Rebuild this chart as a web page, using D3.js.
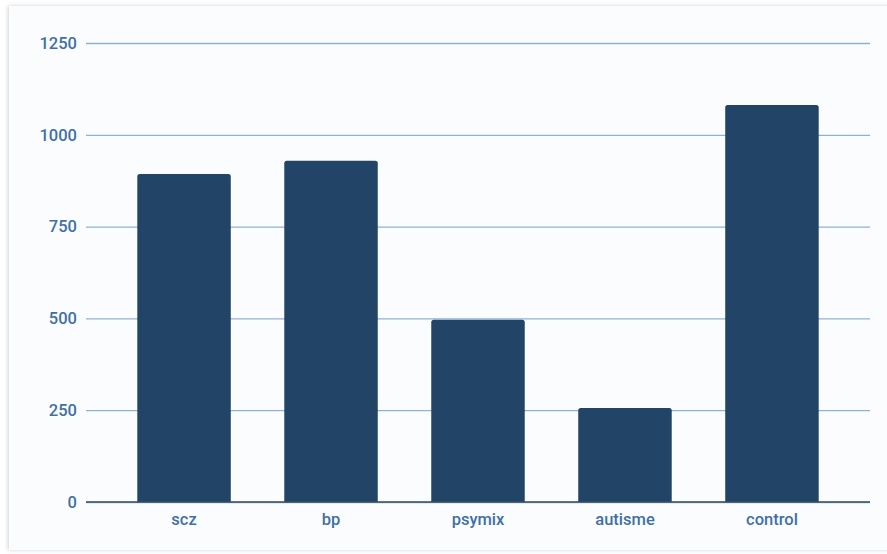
<!DOCTYPE html>
<meta charset="utf-8">
<script src="https://d3js.org/d3.v7.min.js"></script>
<style>
  body { margin: 0; background: #ffffff; }
  #card { position: absolute; left: 9px; top: 6px; width: 890px; height: 544px;
          background: #fbfcfe; box-shadow: -1px 0 4px rgba(0,0,0,0.18); }
</style>
<div id="card"></div>
<div id="my_dataviz" style="position:absolute;left:0;top:0"></div>
<script>

// data
var categories = ["scz", "bp", "psymix", "autisme", "control"];
var values = [893, 929, 496, 256, 1081];
var yTicks = [0, 250, 500, 750, 1000, 1250];

var width = 887, height = 554;

var svg = d3.select("#my_dataviz")
  .append("svg")
    .attr("width", width)
    .attr("height", height);

var x = d3.scaleBand()
  .domain(categories)
  .range([86, 870])
  .paddingInner(0.364)
  .paddingOuter(0.349);

var y = d3.scaleLinear()
  .domain([0, 1250])
  .range([502, 43]);

// gridlines + y labels
var yAxis = svg.append("g")
  .attr("transform", "translate(86,0)")
  .call(d3.axisLeft(y).tickValues(yTicks).tickFormat(d3.format("d")).tickSize(-784).tickPadding(9));
yAxis.select(".domain").remove();
yAxis.selectAll("line")
  .attr("stroke", "#8fb2d4")
  .attr("stroke-width", 1.3);
yAxis.selectAll("text")
  .attr("fill", "#3f70a6")
  .style("font-family", "Roboto")
  .style("font-weight", 500)
  .style("font-size", "16.5px");

// bars
svg.selectAll("path.bar")
  .data(values)
  .enter()
  .append("path")
    .attr("class", "bar")
    .attr("fill", "#224466")
    .attr("d", function(d, i) {
      var x0 = x(categories[i]), w = x.bandwidth(), y0 = y(d), y1 = y(0), r = 2.5;
      return "M" + x0 + "," + y1 +
             "V" + (y0 + r) + "Q" + x0 + "," + y0 + " " + (x0 + r) + "," + y0 +
             "H" + (x0 + w - r) + "Q" + (x0 + w) + "," + y0 + " " + (x0 + w) + "," + (y0 + r) +
             "V" + y1 + "Z";
    });

// x axis
var xAxis = svg.append("g")
  .attr("transform", "translate(0,502)")
  .call(d3.axisBottom(x).tickSize(0).tickPadding(11));
xAxis.select(".domain")
  .attr("stroke", "#3a4b5c")
  .attr("stroke-width", 1.5)
  .attr("d", "M86,0H870");
xAxis.selectAll("text")
  .attr("fill", "#3f70a6")
  .style("font-family", "Roboto")
  .style("font-weight", 500)
  .style("font-size", "16.5px");

</script>
